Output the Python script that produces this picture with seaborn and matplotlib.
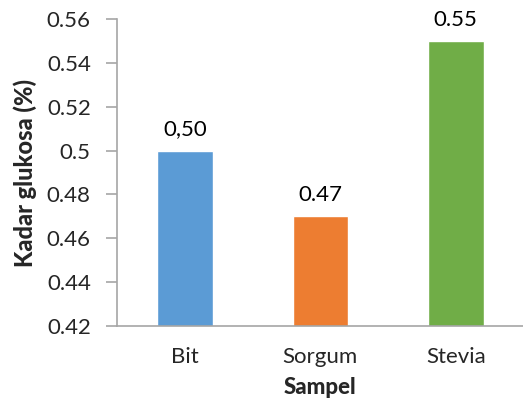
import matplotlib
matplotlib.use("Agg")
import matplotlib.pyplot as plt
import seaborn as sns
import pandas as pd

categories = ["Bit", "Sorgum", "Stevia"]
values = [0.50, 0.47, 0.55]
value_labels = ["0,50", "0.47", "0.55"]
colors = ["#5B9BD5", "#ED7D31", "#70AD47"]
yticks = [0.42, 0.44, 0.46, 0.48, 0.5, 0.52, 0.54, 0.56]
ytick_labels = ["0.42", "0.44", "0.46", "0.48", "0.5", "0.52", "0.54", "0.56"]

sns.set_style("white")
plt.rcParams["font.family"] = ["Lato", "DejaVu Sans"]

df = pd.DataFrame({"Sampel": categories, "Kadar": values})

fig = plt.figure(figsize=(5.23, 4.15), dpi=100)
ax = fig.add_axes([0.224, 0.2145, 0.777, 0.7395])

sns.barplot(data=df, x="Sampel", y="Kadar", hue="Sampel", palette=colors,
            width=0.41, legend=False, ax=ax, saturation=1)

ax.set_ylim(0.42, 0.56)
ax.set_xlim(-0.5, 2.5)
ax.set_yticks(yticks)
ax.set_yticklabels(ytick_labels)

for cont, lab in zip(ax.containers, value_labels):
    ax.bar_label(cont, labels=[lab], padding=8, fontsize=16, color="#000000")

spine_col = "#A6A6A6"
for s in ["top", "right"]:
    ax.spines[s].set_visible(False)
for s in ["left", "bottom"]:
    ax.spines[s].set_color(spine_col)
    ax.spines[s].set_linewidth(1.2)

ax.set_xticks([0, 1, 2])
ax.set_xticklabels(categories)
ax.set_xticks([-0.5, 0.5, 1.5, 2.5], minor=True)
ax.tick_params(axis="x", which="major", length=0, pad=15, labelsize=16)
ax.tick_params(axis="x", which="minor", length=8, width=1.2, color=spine_col, direction="out")
ax.tick_params(axis="y", which="major", length=8, width=1.2, color=spine_col,
               direction="out", labelsize=16, pad=11, left=True)

ax.set_xlabel("Sampel", fontsize=16, fontweight="black", labelpad=7)
ax.set_ylabel("Kadar glukosa (%)", fontsize=17, fontweight="black", labelpad=7)

fig.savefig("out.png", dpi=100)
